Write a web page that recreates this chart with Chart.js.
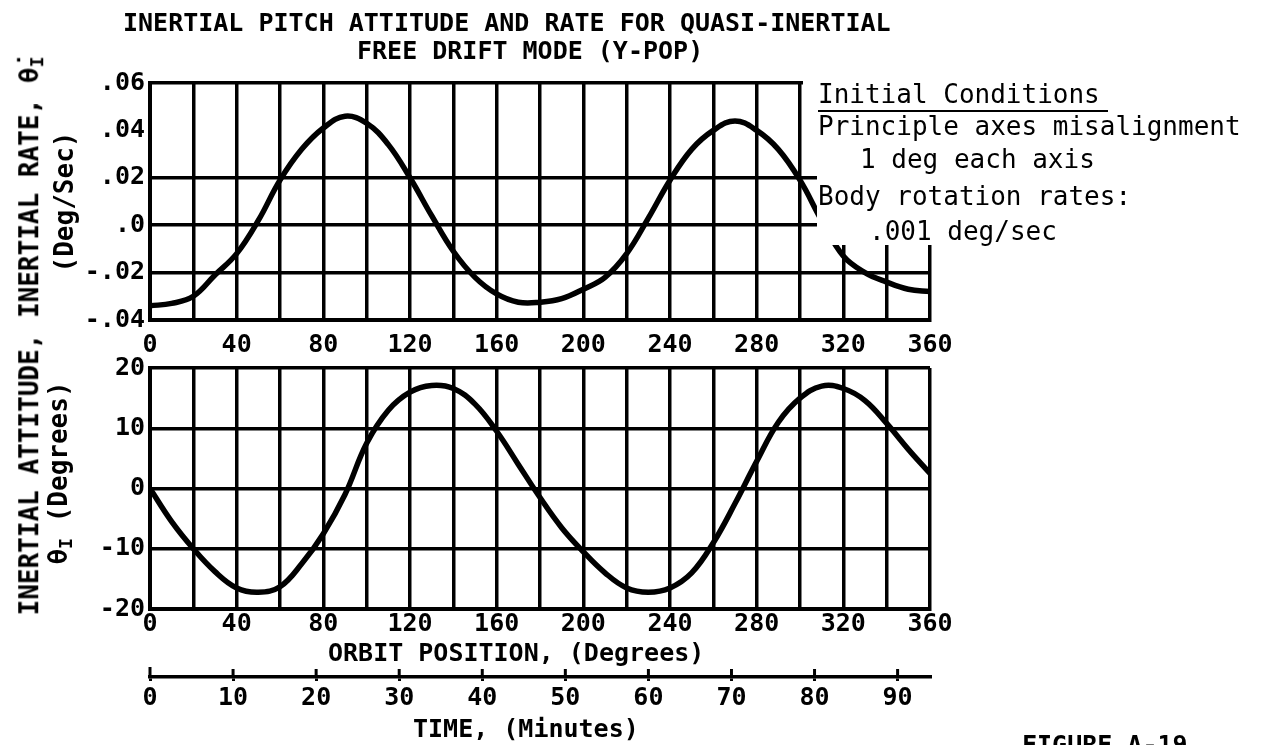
<!DOCTYPE html>
<html>
<head>
<meta charset="utf-8">
<script src="https://cdn.jsdelivr.net/npm/chart.js@4/dist/chart.umd.min.js"></script>
<style>
  body { margin: 0; background: #fff; }
  #wrap { position: relative; width: 1263px; height: 745px; overflow: hidden; color: #000;
          font-family: "DejaVu Sans Mono", monospace; font-weight: bold; }
  canvas { position: absolute; left: 0; top: 0; }
  .txt { position: absolute; white-space: nowrap; font-size: 25px; line-height: 25px; }
  .box { position: absolute; white-space: nowrap; font-size: 26px; line-height: 26px; font-weight: normal; }
  .rot { position: absolute; white-space: nowrap; font-size: 26px; line-height: 26px;
         transform: translate(-50%, -50%) rotate(-90deg); }
  sub { font-size: 0.7em; vertical-align: -0.25em; }
  .ul { border-bottom: 2px solid #000; padding-right: 8px; padding-bottom: 1px; }
</style>
</head>
<body>
<div id="wrap">
  <canvas id="rateChart" width="1263" height="360"></canvas>
  <canvas id="attChart" width="1263" height="745"></canvas>

  <div class="txt" style="left:123px; top:10px;">INERTIAL PITCH ATTITUDE AND RATE FOR QUASI-INERTIAL</div>
  <div class="txt" style="left:357px; top:38px;">FREE DRIFT MODE (Y-POP)</div>

  <div class="rot" style="left:33px; top:336px;">INERTIAL ATTITUDE, INERTIAL RATE, θ&#775;<sub>I</sub></div>
  <div class="rot" style="left:64px; top:202px;">(Deg/Sec)</div>
  <div class="rot" style="left:62px; top:473px;">θ<sub>I</sub> (Degrees)</div>

  <div class="box" style="left:818px; top:81px;"><span class="ul">Initial Conditions</span></div>
  <div class="box" style="left:818px; top:113px;">Principle axes misalignment</div>
  <div class="box" style="left:860px; top:146px;">1 deg each axis</div>
  <div class="box" style="left:818px; top:183px;">Body rotation rates:</div>
  <div class="box" style="left:869px; top:218px;">.001 deg/sec</div>

  <div class="txt" style="left:328px; top:640px;">ORBIT POSITION, (Degrees)</div>
  <div class="txt" style="left:413px; top:716px;">TIME, (Minutes)</div>
  <div class="txt" style="left:1022px; top:732px;">FIGURE A-19</div>
</div>

<script>
// orbit position (deg) and the two curves
const orbitDeg = [0, 10, 20, 30, 40, 50, 60, 70, 80, 90, 100, 110, 120, 130, 140, 150, 160, 170, 180,
                  190, 200, 210, 220, 230, 240, 250, 260, 270, 280, 290, 300, 310, 320, 330, 340, 350, 360];
const rateValues = [-0.034, -0.033, -0.030, -0.021, -0.012, 0.002, 0.019, 0.032, 0.041, 0.046, 0.043,
                    0.034, 0.020, 0.004, -0.011, -0.022, -0.029, -0.0325, -0.0325, -0.031, -0.027,
                    -0.022, -0.012, 0.003, 0.019, 0.032, 0.040, 0.044, 0.040, 0.032, 0.019, 0.002,
                    -0.013, -0.020, -0.024, -0.027, -0.028];
const attitudeValues = [0, -5.5, -10, -13.8, -16.5, -17.2, -16.3, -12.5, -7.5, -1, 7.5, 13, 16, 17.1,
                        16.6, 14, 9.5, 4, -1.5, -6.5, -10.5, -14, -16.5, -17.2, -16.5, -14, -9, -2.5,
                        4.5, 11, 15, 17, 16.6, 14.6, 10.8, 6.5, 2.5];

// tick labels
const degreeLabels = ['0', '40', '80', '120', '160', '200', '240', '280', '320', '360'];
const rateLabels = ['-.04', '-.02', '.0', '.02', '.04', '.06'];
const attitudeLabels = ['-20', '-10', '0', '10', '20'];
const minuteTicks = [0, 10, 20, 30, 40, 50, 60, 70, 80, 90];
const minuteLabels = ['0', '10', '20', '30', '40', '50', '60', '70', '80', '90'];

const tickFont = { family: '"DejaVu Sans Mono", monospace', size: 25, weight: 'bold' };
const INK = '#000';

function xy(ys) {
    return orbitDeg.map((d, i) => ({ x: d, y: ys[i] }));
}

function degreeAxis(pad, h) {
    return {
        type: 'linear', min: 0, max: 360,
        ticks: {
            stepSize: 20, autoSkip: false, maxRotation: 0, padding: pad, color: INK, font: tickFont,
            callback: v => (v % 40 === 0 ? degreeLabels[v / 40] : '')
        },
        grid: { color: INK, lineWidth: 3.5, drawTicks: false },
        border: { color: INK, width: 4 },
        afterFit: s => { s.height = h; }
    };
}

// white block behind the "Initial Conditions" note, hides that corner of the grid
const noteCover = {
    id: 'noteCover',
    afterDatasetsDraw(chart) {
        const { ctx, chartArea, scales } = chart;
        const right = Math.ceil(chartArea.right + 6);
        const top = Math.floor(chartArea.top - 6);
        const yMid = Math.round(scales.y.getPixelForValue(0.024));
        const yLow = Math.round(scales.y.getPixelForValue(-0.0085));
        const xA = Math.round(scales.x.getPixelForValue(301.6));
        const xB = Math.round(scales.x.getPixelForValue(308));
        ctx.save();
        ctx.fillStyle = '#fff';
        ctx.beginPath();
        ctx.moveTo(xA, top);
        ctx.lineTo(right, top);
        ctx.lineTo(right, yLow);
        ctx.lineTo(xB, yLow);
        ctx.lineTo(xB, yMid);
        ctx.lineTo(xA, yMid);
        ctx.closePath();
        ctx.fill();
        ctx.restore();
    }
};

// the time scale ticks cross its line
const minuteTickUp = {
    id: 'minuteTickUp',
    afterDraw(chart) {
        const s = chart.scales.x2;
        const ctx = chart.ctx;
        ctx.save();
        ctx.strokeStyle = INK;
        ctx.lineWidth = 3;
        minuteTicks.forEach((v, i) => {
            const px = s.getPixelForValue(v);
            ctx.beginPath();
            ctx.moveTo(px, s.top - (i === 0 ? 10 : 8));
            ctx.lineTo(px, s.top);
            ctx.stroke();
        });
        ctx.restore();
    }
};

const common = {
    responsive: false,
    animation: false,
    plugins: { legend: { display: false }, tooltip: { enabled: false } }
};

// --- top panel: inertial rate ---
new Chart(document.getElementById('rateChart'), {
    type: 'line',
    data: {
        datasets: [{
            data: xy(rateValues), borderColor: INK, borderWidth: 5.5,
            pointRadius: 0, tension: 0.4, fill: false
        }]
    },
    options: {
        ...common,
        layout: { padding: { left: 70, top: 83, right: 333, bottom: 0 } },
        scales: {
            x: degreeAxis(10, 40),
            y: {
                min: -0.04, max: 0.06,
                ticks: { stepSize: 0.02, padding: 5, color: INK, font: tickFont, callback: (v, i) => rateLabels[i] },
                grid: {
                    color: c => (c.tick && Math.abs(c.tick.value - 0.04) < 1e-6 ? 'rgba(0,0,0,0)' : INK),
                    lineWidth: 3.5, drawTicks: false
                },
                border: { color: INK, width: 4 },
                afterFit: s => { s.width = 80; }
            }
        }
    },
    plugins: [noteCover]
});

// --- bottom panel: inertial attitude, with the time scale under it ---
new Chart(document.getElementById('attChart'), {
    type: 'line',
    data: {
        datasets: [{
            data: xy(attitudeValues), borderColor: INK, borderWidth: 5.5,
            pointRadius: 0, tension: 0.4, fill: false
        }]
    },
    options: {
        ...common,
        layout: { padding: { left: 70, top: 368, right: 333, bottom: 0 } },
        scales: {
            x: degreeAxis(0, 68),
            x2: {
                type: 'linear', position: 'bottom', weight: 1, min: 0, max: 93.9,
                afterBuildTicks: s => { s.ticks = minuteTicks.map(v => ({ value: v })); },
                ticks: {
                    autoSkip: false, maxRotation: 0, padding: 2, color: INK, font: tickFont,
                    callback: v => minuteLabels[minuteTicks.indexOf(v)]
                },
                grid: { drawOnChartArea: false, color: INK, lineWidth: 3, tickLength: 4 },
                border: { color: INK, width: 3.5 },
                afterFit: s => { s.height = 68; }
            },
            y: {
                min: -20, max: 20,
                ticks: { stepSize: 10, padding: 5, color: INK, font: tickFont, callback: (v, i) => attitudeLabels[i] },
                grid: { color: INK, lineWidth: 3.5, drawTicks: false },
                border: { color: INK, width: 4 },
                afterFit: s => { s.width = 80; }
            }
        }
    },
    plugins: [minuteTickUp]
});
</script>
</body>
</html>
